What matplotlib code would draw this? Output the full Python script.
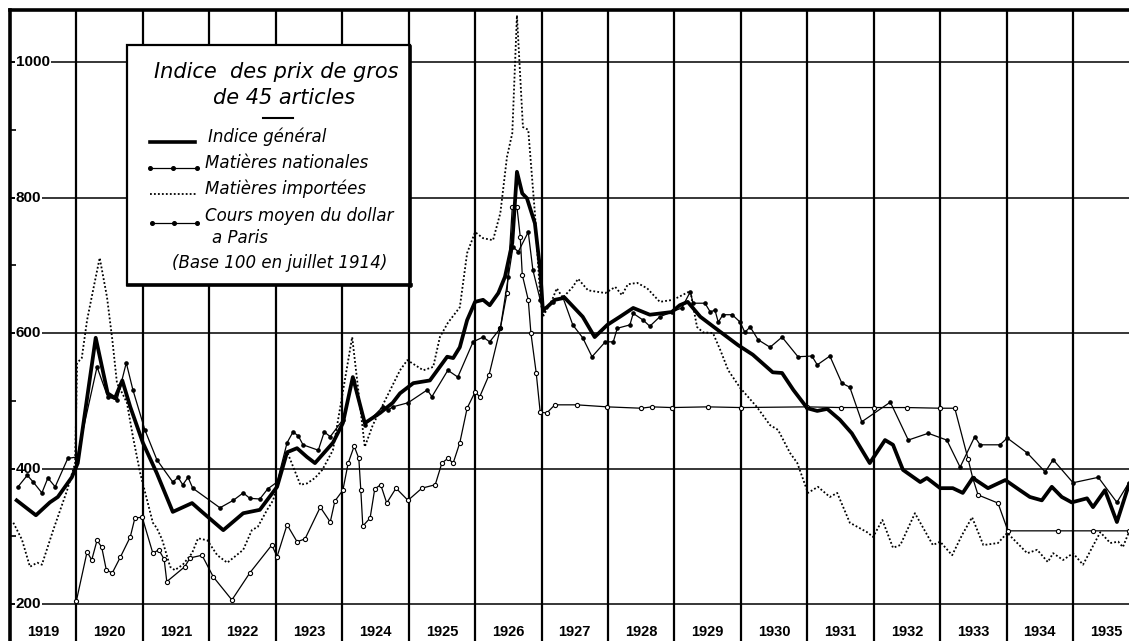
import matplotlib.pyplot as plt
from matplotlib.patches import Rectangle
from matplotlib.lines import Line2D

W, H = 1129, 641

# Indice général (trait fort)
gen_years = [1919.10, 1919.39, 1919.60, 1919.72, 1919.93, 1920.02, 1920.29, 1920.47, 1920.58, 1920.69,
             1920.81, 1921.00, 1921.21, 1921.45, 1921.74, 1921.89, 1922.21, 1922.51, 1922.76, 1923.02,
             1923.17, 1923.32, 1923.47, 1923.59, 1923.86, 1924.01, 1924.16, 1924.34, 1924.57, 1924.76,
             1924.87, 1925.07, 1925.32, 1925.58, 1925.67, 1925.77, 1925.88, 1926.00, 1926.12, 1926.22,
             1926.35, 1926.45, 1926.56, 1926.63, 1926.71, 1926.78, 1926.90, 1926.98, 1927.02, 1927.08,
             1927.20, 1927.35, 1927.62, 1927.80, 1927.99, 1928.18, 1928.38, 1928.63, 1928.96, 1929.08,
             1929.20, 1929.39, 1929.66, 1929.96, 1930.18, 1930.48, 1930.62, 1930.79, 1931.00, 1931.15,
             1931.30, 1931.49, 1931.67, 1931.94, 1932.17, 1932.29, 1932.44, 1932.70, 1932.80, 1933.00,
             1933.19, 1933.34, 1933.49, 1933.72, 1933.98, 1934.20, 1934.35, 1934.53, 1934.68, 1934.83,
             1934.98, 1935.21, 1935.30, 1935.48, 1935.66, 1935.84]
gen_values = [353, 331, 350, 358, 387, 408, 593, 511, 504, 530,
              491, 438, 393, 336, 349, 336, 309, 334, 339, 373,
              424, 430, 417, 408, 438, 467, 535, 467, 482, 497,
              511, 526, 530, 565, 563, 579, 619, 646, 649, 641,
              659, 683, 733, 838, 806, 799, 762, 693, 634, 638,
              649, 652, 624, 594, 612, 624, 637, 627, 631, 641,
              646, 624, 604, 582, 568, 542, 541, 516, 489, 485,
              488, 472, 452, 408, 442, 435, 398, 380, 386, 371,
              371, 364, 386, 371, 383, 368, 358, 353, 373, 358,
              350, 356, 343, 368, 321, 376]

# Matières nationales
nat_years = [1919.12, 1919.26, 1919.35, 1919.48, 1919.57, 1919.68, 1919.87, 1920.01, 1920.31, 1920.47,
             1920.61, 1920.75, 1920.85, 1921.03, 1921.21, 1921.45, 1921.53, 1921.60, 1921.68, 1921.75,
             1922.16, 1922.36, 1922.51, 1922.61, 1922.76, 1922.88, 1923.02, 1923.17, 1923.26, 1923.34,
             1923.41, 1923.64, 1923.73, 1923.82, 1924.01, 1924.16, 1924.34, 1924.61, 1924.69, 1924.76,
             1924.99, 1925.28, 1925.35, 1925.59, 1925.74, 1925.97, 1926.12, 1926.22, 1926.38, 1926.50,
             1926.57, 1926.65, 1926.80, 1926.87, 1926.98, 1927.02, 1927.17, 1927.32, 1927.47, 1927.62,
             1927.76, 1927.96, 1928.08, 1928.14, 1928.33, 1928.38, 1928.53, 1928.63, 1928.78, 1928.96,
             1929.11, 1929.24, 1929.28, 1929.46, 1929.54, 1929.61, 1929.66, 1929.73, 1929.87, 1929.99,
             1930.06, 1930.14, 1930.26, 1930.44, 1930.62, 1930.86, 1931.07, 1931.15, 1931.34, 1931.52,
             1931.64, 1931.82, 1932.25, 1932.52, 1932.82, 1933.10, 1933.30, 1933.52, 1933.60, 1933.90,
             1934.01, 1934.31, 1934.58, 1934.70, 1935.00, 1935.38, 1935.66, 1935.84]
nat_values = [373, 390, 380, 364, 386, 373, 415, 417, 550, 506,
              501, 556, 516, 457, 413, 380, 387, 376, 387, 371,
              342, 353, 364, 356, 355, 370, 380, 438, 454, 448,
              435, 427, 454, 447, 472, 531, 464, 491, 486, 491,
              497, 516, 506, 545, 535, 587, 594, 587, 607, 683,
              727, 720, 749, 693, 649, 634, 646, 653, 612, 593,
              565, 587, 587, 607, 612, 629, 619, 610, 624, 631,
              637, 661, 644, 644, 631, 634, 616, 627, 627, 616,
              601, 609, 590, 579, 594, 565, 566, 553, 566, 526,
              520, 469, 498, 442, 452, 442, 402, 447, 435, 435,
              445, 423, 395, 413, 379, 387, 350, 379]

# Matières importées
imp_years = [1919.05, 1919.18, 1919.30, 1919.41, 1919.48, 1919.65, 1919.86, 1919.98, 1920.01, 1920.08,
             1920.16, 1920.25, 1920.35, 1920.46, 1920.54, 1920.61, 1920.69, 1920.76, 1920.85, 1920.96,
             1921.15, 1921.21, 1921.29, 1921.41, 1921.48, 1921.60, 1921.74, 1921.83, 1921.97, 1922.12,
             1922.27, 1922.51, 1922.64, 1922.73, 1922.87, 1922.96, 1923.11, 1923.17, 1923.37, 1923.47,
             1923.59, 1923.70, 1923.86, 1924.15, 1924.34, 1924.46, 1924.87, 1924.98, 1925.22, 1925.37,
             1925.47, 1925.59, 1925.77, 1925.88, 1926.00, 1926.12, 1926.27, 1926.38, 1926.48, 1926.56,
             1926.63, 1926.72, 1926.80, 1926.90, 1926.98, 1927.02, 1927.16, 1927.23, 1927.32, 1927.47,
             1927.55, 1927.70, 1927.96, 1928.11, 1928.21, 1928.30, 1928.44, 1928.59, 1928.78, 1928.98,
             1929.24, 1929.34, 1929.43, 1929.58, 1929.69, 1929.81, 1929.99, 1930.24, 1930.44, 1930.56,
             1930.74, 1930.85, 1931.01, 1931.16, 1931.34, 1931.45, 1931.64, 1931.90, 1931.99, 1932.13,
             1932.29, 1932.40, 1932.62, 1932.89, 1933.00, 1933.18, 1933.33, 1933.48, 1933.65, 1933.87,
             1934.01, 1934.31, 1934.46, 1934.62, 1934.70, 1934.85, 1935.00, 1935.15, 1935.41, 1935.56,
             1935.68, 1935.75, 1935.84]
imp_values = [320, 295, 255, 261, 258, 309, 368, 408, 556, 563,
              619, 663, 711, 653, 590, 526, 511, 497, 447, 393,
              320, 312, 295, 255, 250, 258, 275, 297, 294, 272,
              261, 280, 309, 314, 339, 353, 408, 425, 376, 378,
              386, 398, 427, 594, 432, 464, 545, 560, 545, 550,
              594, 615, 638, 718, 749, 740, 737, 777, 860, 895,
              1069, 904, 900, 777, 653, 624, 649, 666, 652, 668,
              680, 663, 659, 668, 656, 672, 674, 666, 646, 649,
              662, 609, 601, 600, 575, 545, 519, 491, 464, 457,
              423, 408, 364, 373, 358, 364, 320, 306, 299, 324,
              283, 287, 334, 287, 292, 272, 302, 328, 287, 290,
              305, 275, 280, 262, 275, 265, 275, 258, 306, 290,
              292, 284, 306]

# Cours moyen du dollar à Paris
usd_years = [1920.00, 1920.16, 1920.23, 1920.31, 1920.38, 1920.45, 1920.54, 1920.66, 1920.81, 1920.88,
             1920.99, 1921.15, 1921.24, 1921.32, 1921.36, 1921.63, 1921.71, 1921.89, 1922.06, 1922.34,
             1922.61, 1922.94, 1923.02, 1923.17, 1923.32, 1923.44, 1923.67, 1923.82, 1923.89, 1924.01,
             1924.09, 1924.18, 1924.25, 1924.28, 1924.31, 1924.42, 1924.49, 1924.58, 1924.67, 1924.81,
             1924.99, 1925.20, 1925.40, 1925.50, 1925.59, 1925.67, 1925.77, 1925.88, 1926.00, 1926.07,
             1926.21, 1926.38, 1926.48, 1926.56, 1926.63, 1926.68, 1926.71, 1926.80, 1926.84, 1926.92,
             1926.98, 1927.08, 1927.20, 1927.53, 1927.99, 1928.50, 1928.66, 1928.96, 1929.50, 1930.00,
             1931.00, 1931.50, 1932.00, 1932.50, 1933.00, 1933.22, 1933.42, 1933.49, 1933.57, 1933.87,
             1934.02, 1934.77, 1935.30, 1935.84]
usd_values = [205, 277, 265, 294, 284, 250, 246, 269, 299, 327,
              328, 275, 280, 266, 233, 255, 268, 272, 240, 206,
              246, 287, 270, 317, 292, 296, 343, 321, 352, 368,
              408, 433, 415, 368, 315, 327, 370, 376, 349, 371,
              353, 371, 376, 408, 415, 408, 438, 489, 513, 506,
              538, 607, 659, 786, 786, 742, 686, 649, 600, 541,
              483, 482, 494, 494, 491, 489, 491, 490, 491, 490,
              491, 490, 490, 490, 489, 489, 414, 386, 361, 349,
              308, 308, 308, 308]

year_labels = list(range(1919, 1936))
value_ticks = [200, 400, 600, 800, 1000]

fig = plt.figure(figsize=(W / 100, H / 100), dpi=100)
ax = fig.add_axes([10 / W, 0, (W - 10) / W, (H - 10) / H])
ax.set_xlim(1919, 1935.842)
ax.set_ylim(145.4, 1076.8)

for s in ['right', 'bottom']:
    ax.spines[s].set_visible(False)
for s in ['left', 'top']:
    ax.spines[s].set_linewidth(2.6)

ax.set_xticks([])
ax.set_yticks(range(200, 1001, 100))
ax.tick_params(axis='y', direction='in', length=4, width=1.2, labelleft=False)

for yr in year_labels[1:]:
    ax.axvline(yr, color='k', lw=1.6, zorder=1)
for v in value_ticks:
    ax.axhline(v, color='k', lw=1.1, zorder=1)

for v in value_ticks:
    ax.text(1919.09, v, str(v), ha='left', va='center', zorder=2,
            family='Liberation Sans', weight='bold', size=11,
            bbox=dict(fc='white', ec='none', pad=0.5))
for yr in year_labels:
    ax.text(yr + 0.5, 158, str(yr), ha='center', va='center',
            family='Liberation Sans', weight='bold', size=10.5)

ax.plot(imp_years, imp_values, color='k', lw=1.3, ls=(0, (1, 1.2)), zorder=3)
ax.plot(usd_years, usd_values, color='k', lw=0.9, marker='o', ms=3,
        mfc='white', mec='k', mew=0.8, zorder=3)
ax.plot(nat_years, nat_values, color='k', lw=0.9, marker='o', ms=2.3, zorder=3)
ax.plot(gen_years, gen_values, color='k', lw=2.7, zorder=4)


# légende encadrée (coordonnées en pixels de la figure)
def fx(x):
    return x / W


def fy(y):
    return 1 - y / H


fig.add_artist(Rectangle((fx(127), fy(285)), fx(410) - fx(127), fy(45) - fy(285),
                         fc='white', ec='k', lw=1.6, zorder=5))
fig.add_artist(Line2D([fx(410), fx(410)], [fy(47), fy(286)], color='k', lw=2.6, zorder=6))
fig.add_artist(Line2D([fx(128), fx(411)], [fy(285), fy(285)], color='k', lw=2.6, zorder=6))

leg_font = dict(family='DejaVu Sans', style='italic', color='k', zorder=7)
fig.text(fx(276), fy(72), 'Indice  des prix de gros', ha='center', va='center', size=15, **leg_font)
fig.text(fx(284), fy(98), 'de 45 articles', ha='center', va='center', size=15, **leg_font)
fig.add_artist(Line2D([fx(263), fx(293)], [fy(118), fy(118)], color='k', lw=1.5, zorder=7))

fig.add_artist(Line2D([fx(150), fx(195)], [fy(142), fy(142)], color='k', lw=2.6, zorder=7))
fig.add_artist(Line2D([fx(150), fx(173), fx(197)], [fy(168)] * 3, color='k', lw=0.9,
                      marker='o', ms=2.6, zorder=7))
fig.add_artist(Line2D([fx(150), fx(197)], [fy(194), fy(194)], color='k', lw=1.3,
                      ls=(0, (1, 1.2)), zorder=7))
fig.add_artist(Line2D([fx(152), fx(174), fx(197)], [fy(223)] * 3, color='k', lw=0.9,
                      marker='o', ms=2.6, zorder=7))

fig.text(fx(208), fy(137), 'Indice général', ha='left', va='center', size=12, **leg_font)
fig.text(fx(205), fy(163), 'Matières nationales', ha='left', va='center', size=12, **leg_font)
fig.text(fx(205), fy(189), 'Matières importées', ha='left', va='center', size=12, **leg_font)
fig.text(fx(205), fy(216), 'Cours moyen du dollar', ha='left', va='center', size=12, **leg_font)
fig.text(fx(212), fy(238), 'a Paris', ha='left', va='center', size=12, **leg_font)
fig.text(fx(172), fy(263), '(Base 100 en juillet 1914)', ha='left', va='center', size=12, **leg_font)

fig.savefig('out.png', dpi=100)
